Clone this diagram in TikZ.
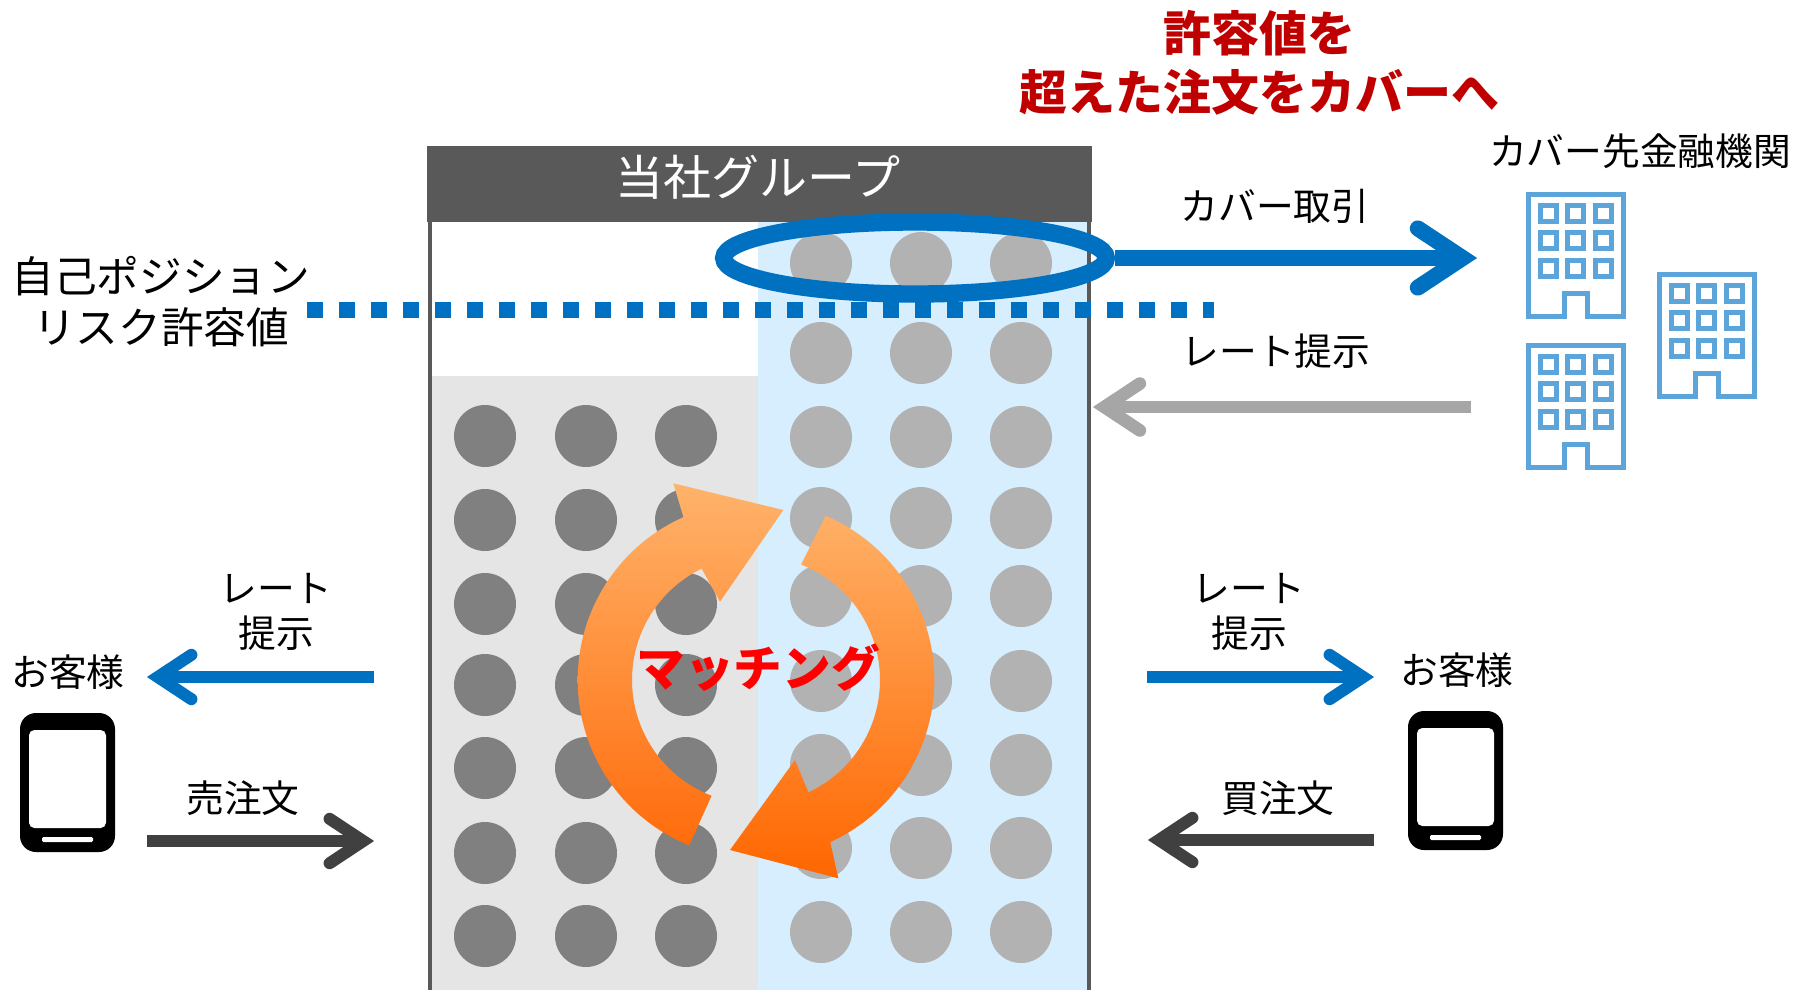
\documentclass[tikz,border=0pt]{standalone}
\usepackage{fontspec}
\setmainfont{Noto Sans CJK JP}
\usetikzlibrary{arrows.meta,shapes.geometric}
\definecolor{cblue}{HTML}{0070C0}
\definecolor{cdark}{HTML}{404040}
\definecolor{cgrayarrow}{HTML}{A6A6A6}
\definecolor{cheader}{HTML}{595959}
\definecolor{cpaleblue}{HTML}{D6EEFD}
\definecolor{cpalegray}{HTML}{E5E5E5}
\definecolor{cdotdark}{HTML}{808080}
\definecolor{cdotlight}{HTML}{B2B2B2}
\definecolor{cbuilding}{HTML}{5BA5DB}
\definecolor{cdarkred}{HTML}{C00000}
\definecolor{orangeA}{HTML}{FFB36B}
\definecolor{orangeB}{HTML}{FF6C0C}
\definecolor{orangeC}{HTML}{FFB066}
\definecolor{orangeD}{HTML}{FF6600}
\pgfdeclarearrow{
  name=Chev,
  cache=false,
  setup code={
    \pgfarrowssettipend{0pt}
    \pgfarrowssetlineend{-1.2\pgflinewidth}
    \pgfarrowssetbackend{-4.2\pgflinewidth}
    \pgfarrowssetvisualbackend{-4.2\pgflinewidth}
  },
  drawing code={
    \pgfsetroundcap
    \pgfsetmiterjoin
    \pgfsetmiterlimit{10}
    \pgfpathmoveto{\pgfqpoint{-3.7\pgflinewidth}{1.85\pgflinewidth}}
    \pgfpathlineto{\pgfqpoint{-0.9\pgflinewidth}{0pt}}
    \pgfpathlineto{\pgfqpoint{-3.7\pgflinewidth}{-1.85\pgflinewidth}}
    \pgfusepathqstroke
  }
}
\tikzset{
  x=0.75pt,y=-0.75pt,
  lbl/.style={inner sep=0pt,font=\fontsize{28.3}{32}\selectfont,text=black},
  lblmid/.style={inner sep=0pt,font=\fontsize{32}{36}\selectfont,text=black},
  lblhead/.style={inner sep=0pt,font=\fontsize{36}{40}\selectfont,text=white},
  lblred/.style={inner sep=0pt,font=\fontsize{36}{40}\selectfont\bfseries,text=cdarkred},
  lblmatch/.style={inner sep=0pt,font=\fontsize{36.5}{40}\selectfont\bfseries,text=red},
  arr/.style={line width=#1,-{Chev}},
  bldg/.pic={
    \draw[cbuilding,line width=3.75pt,miter limit=10]
      (2.5,2.5)--(97.5,2.5)--(97.5,124.8)--(61.8,124.8)--(61.8,101.8)--(38.5,101.8)--(38.5,124.8)--(2.5,124.8)--cycle;
    \foreach \i in {14.2,41.8,69.5}
      \foreach \j in {13.5,40.8,68.2}
        \draw[cbuilding,line width=3.75pt] (\i,\j) rectangle ++(16,16);
  },
  phone/.pic={
    \fill[black,rounded corners=12pt] (0,0) rectangle (95,139);
    \fill[white,rounded corners=4pt] (9,17) rectangle (86,115);
    \fill[white,rounded corners=1pt] (22,124) rectangle (73,129);
  }
}
\begin{document}
\begin{tikzpicture}
\useasboundingbox (0,0) rectangle (1795,990);
% panels
\fill[cpalegray] (432,376) rectangle (758,990);
\fill[cpaleblue] (758,221) rectangle (1087,990);
% dots
\foreach \px in {485,586,686}
  \foreach \py in {436,520,604,685,768,853,936}
    \fill[cdotdark] (\px,\py) circle[radius=31];
\foreach \px in {821,921,1021}
  \foreach \py in {263,353,437,518,596,681,765,848,932}
    \fill[cdotlight] (\px,\py) circle[radius=31];
% outline and header
\draw[cheader,line width=3pt] (430,221) -- (430,990);
\draw[cheader,line width=3pt] (1089,221) -- (1089,990);
\node[fill=cheader,minimum width=498.5pt,minimum height=57pt,inner sep=0pt,anchor=north west] (hdr) at (427,146) {};
\node[lblhead] (hdrtext) at (758,177) {当社グループ};
% rotating arrows
\begin{scope}[shift={(550,460)},x=0.25pt,y=-0.25pt]
\shade[top color=orangeA,bottom color=orangeB]
  (700,150) -- (370,70)
  -- plot[smooth,domain=246:112,samples=30] ({618+535*cos(\x)},{660+535*sin(\x)})
  -- plot[smooth,domain=111:244,samples=30] ({618+372*cos(\x)},{660+372*sin(\x)})
  -- (510,425) -- cycle;
\shade[top color=orangeC,bottom color=orangeD]
  (755,310)
  -- plot[smooth,domain=-67:65.4,samples=30] ({618+535*cos(\x)},{660+535*sin(\x)})
  -- (865,1255) -- (540,1170) -- (735,900)
  -- plot[smooth,domain=65:-68.6,samples=30] ({618+372*cos(\x)},{660+372*sin(\x)})
  -- cycle;
\end{scope}
\node[lblmatch] (match) at (758,668) {マッチング};
% ellipse + dotted line
\node[draw=cblue,line width=13pt,ellipse,minimum width=287pt,minimum height=54pt,inner sep=0pt] (ell) at (915,258) {};
\coordinate (dotA) at (307,310);
\coordinate (dotB) at (1214,310);
\draw[cblue,line width=12pt,dash pattern=on 12pt off 12pt] (dotA) -- (dotB);
% arrows
\coordinate (coverTip) at (1477,258);
\draw[cblue,arr=12pt] (ell.east) -- (coverTip);
\coordinate (rateA) at (1471,407);
\coordinate (rateB) at (1093,407);
\draw[cgrayarrow,arr=9.5pt] (rateA) -- (rateB);
\coordinate (lbA) at (374,677);
\coordinate (lbB) at (147,677);
\draw[cblue,arr=9pt] (lbA) -- (lbB);
\coordinate (ldA) at (147,841);
\coordinate (ldB) at (374,841);
\draw[cdark,arr=9pt] (ldA) -- (ldB);
\coordinate (rbA) at (1147,677);
\coordinate (rbB) at (1374,677);
\draw[cblue,arr=9pt] (rbA) -- (rbB);
\coordinate (rdA) at (1374,840);
\coordinate (rdB) at (1148,840);
\draw[cdark,arr=9pt] (rdA) -- (rdB);
% buildings and phones
\pic at (1526,192) {bldg};
\pic at (1526,343) {bldg};
\pic at (1657,272) {bldg};
\pic at (20,713) {phone};
\pic at (1408,711) {phone};
% labels
\node[lblred] (redA) at (1259,33) {許容値を};
\node[lblred] (redB) at (1259,92) {超えた注文をカバーへ};
\node[lbl] (inst) at (1640,151) {カバー先金融機関};
\node[lblmid] (posA) at (161,276) {自己ポジション};
\node[lblmid] (posB) at (161,327) {リスク許容値};
\node[lbl] (cov) at (1275,206) {カバー取引};
\node[lbl] (rate) at (1276,351) {レート提示};
\node[lbl] (lrA) at (276,588) {レート};
\node[lbl] (lrB) at (276,633) {提示};
\node[lbl] (rrA) at (1249,588) {レート};
\node[lbl] (rrB) at (1249,633) {提示};
\node[lbl] (custL) at (68,672) {お客様};
\node[lbl] (custR) at (1457,670) {お客様};
\node[lbl] (sell) at (243,798) {売注文};
\node[lbl] (buy) at (1278,798) {買注文};
\end{tikzpicture}
\end{document}
